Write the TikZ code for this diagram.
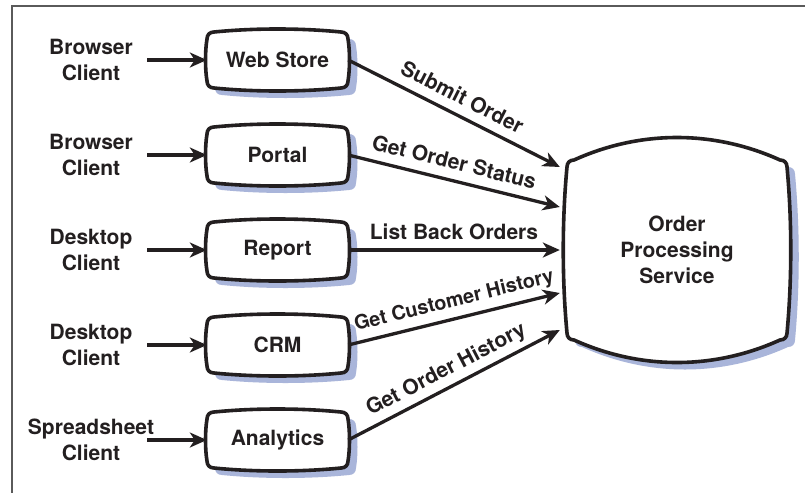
\documentclass[tikz,border=0pt]{standalone}
\usepackage{fontspec}
\setmainfont{TeX Gyre Heros}
\usetikzlibrary{arrows.meta,calc}
\definecolor{ink}{HTML}{231F20}
\definecolor{shadowblue}{HTML}{A9B5DA}
\definecolor{framegray}{HTML}{5A5A5A}

% #1 hw, #2 hh, #3 top/bottom bulge, #4 side bulge, #5 corner
\newcommand\drumpath[5]{%
  ({-#1+#5},{-#2}) .. controls ({-#1/3},{-#2-#3}) and ({#1/3},{-#2-#3}) .. ({#1-#5},{-#2})
  .. controls ({#1-0.4*#5},{-#2}) and ({#1},{-#2+0.4*#5}) .. ({#1},{-#2+#5})
  .. controls ({#1+#4},{-#2/3}) and ({#1+#4},{#2/3}) .. ({#1},{#2-#5})
  .. controls ({#1},{#2-0.4*#5}) and ({#1-0.4*#5},{#2}) .. ({#1-#5},{#2})
  .. controls ({#1/3},{#2+#3}) and ({-#1/3},{#2+#3}) .. ({-#1+#5},{#2})
  .. controls ({-#1+0.4*#5},{#2}) and ({-#1},{#2-0.4*#5}) .. ({-#1},{#2-#5})
  .. controls ({-#1-#4},{#2/3}) and ({-#1-#4},{-#2/3}) .. ({-#1},{-#2+#5})
  .. controls ({-#1},{-#2+0.4*#5}) and ({-#1+0.4*#5},{-#2}) .. cycle}

% #1 name, #2 x, #3 y, #4 hw, #5 hh, #6 bulge tb, #7 bulge side, #8 text
\newcommand\wbox[8]{%
  \begin{scope}[shift={(#2,#3)}]
    \fill[shadowblue, shift={(8,7)}] \drumpath{#4}{#5}{#6}{#7}{7};
    \draw[boxline] \drumpath{#4}{#5}{#6}{#7}{7};
  \end{scope}
  \node[lbl, minimum width={2*#4}] (#1) at (#2,#3) {#8};}

\tikzset{
  boxline/.style={draw=ink, fill=white, line width=3.6pt, line join=round},
  lbl/.style={text=ink, font=\fontsize{21}{26}\selectfont\bfseries, align=center, inner sep=0pt},
  clientlbl/.style={lbl},
  inarrow/.style={draw=ink, line width=3.3pt, -{Stealth[length=17pt,width=15pt,inset=5pt]}},
  outarrow/.style={draw=ink, line width=3.3pt, -{Stealth[length=17pt,width=15pt,inset=5pt]}},
  elbl/.style={lbl, sloped, pos=0.5, anchor=base}
}

\begin{document}
\begin{tikzpicture}[x=1pt,y=-1pt]
\useasboundingbox (0,0) rectangle (805,493);
\fill[white] (0,0) rectangle (805,493);
\draw[framegray, line width=1.6pt] (805,6) -- (12,6) -- (12,493);

% client labels
\node[clientlbl] (c1) at (91,60)  {Browser\\Client};
\node[clientlbl] (c2) at (91,155) {Browser\\Client};
\node[clientlbl] (c3) at (91,250) {Desktop\\Client};
\node[clientlbl] (c4) at (91,345) {Desktop\\Client};
\node[clientlbl] (c5) at (91,440) {Spreadsheet\\Client};

% application boxes
\wbox{web}{277.5}{60}{70.5}{28}{4}{2}{Web Store}
\wbox{portal}{277.5}{155}{70.5}{28}{4}{2}{Portal}
\wbox{report}{277.5}{250}{70.5}{28}{4}{2}{Report}
\wbox{crm}{277.5}{345}{70.5}{28}{4}{2}{CRM}
\wbox{analytics}{277.5}{440}{70.5}{28}{4}{2}{Analytics}

% order processing service
\wbox{ops}{677}{250}{110}{90}{30}{5}{Order\\Processing\\Service}

\coordinate (t1) at ($(ops.west)+(-7,-83)$);
\coordinate (t2) at ($(ops.west)+(-7,-43)$);
\coordinate (t3) at ($(ops.west)+(-7,0)$);
\coordinate (t4) at ($(ops.west)+(-7,43)$);
\coordinate (t5) at ($(ops.west)+(-7,80)$);

% client arrows
\draw[inarrow] ([xshift=56pt]c1.center) -- (web.west);
\draw[inarrow] ([xshift=56pt]c2.center) -- (portal.west);
\draw[inarrow] ([xshift=56pt]c3.center) -- (report.west);
\draw[inarrow] ([xshift=56pt]c4.center) -- (crm.west);
\draw[inarrow] ([xshift=56pt]c5.center) -- (analytics.west);

% service arrows
\draw[outarrow] (web.east) -- node[elbl] {\raisebox{11pt}{Submit Order}} (t1);
\draw[outarrow] (portal.east) -- node[elbl, pos=0.48] {\raisebox{11pt}{Get Order Status}} (t2);
\draw[outarrow] (report.east) -- node[elbl] {\raisebox{11pt}{List Back Orders}} (t3);
\draw[outarrow] (crm.east) -- node[elbl, pos=0.52, font=\fontsize{19.8}{24}\selectfont\bfseries] {\raisebox{12pt}{Get Customer History}} (t4);
\draw[outarrow] (analytics.east) -- node[elbl] {\raisebox{11pt}{Get Order History}} (t5);
\end{tikzpicture}
\end{document}
